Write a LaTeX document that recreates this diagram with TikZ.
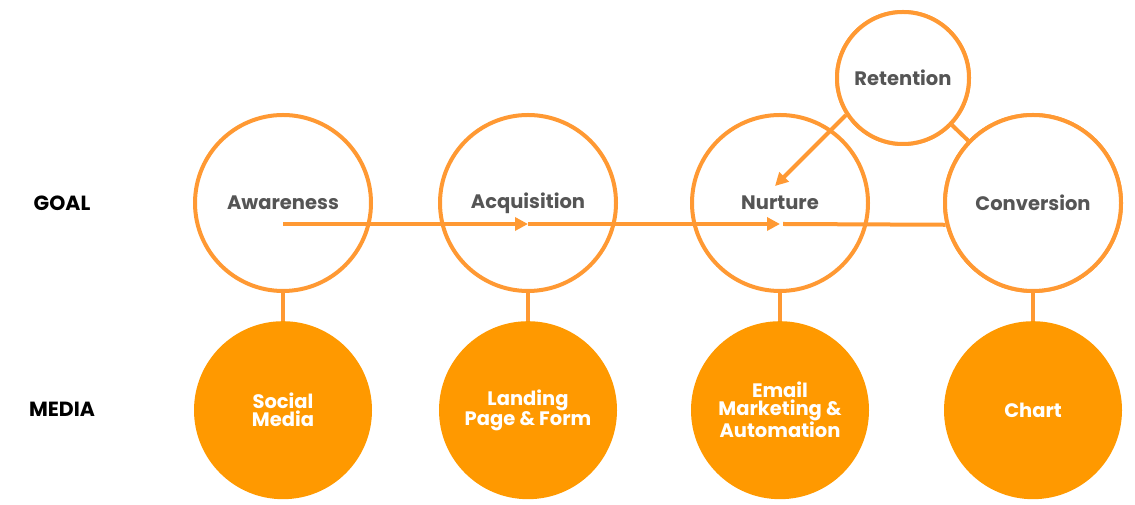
\documentclass[tikz,border=0pt]{standalone}
\usepackage{fontspec}
\setmainfont{Poppins}
\usepackage{xcolor}
\definecolor{LINECOLOR}{HTML}{FF9933}
\definecolor{MEDIACOLOR}{HTML}{FF9900}
\definecolor{TEXTCOLOR}{HTML}{555555}
\usepackage{tikz}
\usetikzlibrary{arrows.meta,positioning,calc}
\tikzset{
  goal-style/.style = {
    circle, draw=LINECOLOR, line width=4pt, fill=white,
    minimum size=176pt, inner sep=0pt,
    text=TEXTCOLOR, font=\bfseries\fontsize{19.5}{18}\selectfont
  },
  ret-style/.style = {
    goal-style, minimum size=132pt
  },
  media-style/.style = {
    circle, fill=MEDIACOLOR, minimum size=178pt, inner sep=0pt,
    text=white, align=center, font=\bfseries\fontsize{19.5}{18}\selectfont
  },
  row-style/.style = {
    font=\bfseries\fontsize{20.5}{18}\selectfont, text=black
  },
  link-style/.style = {
    draw=LINECOLOR, line width=4pt
  },
  flow-style/.style = {
    link-style, -{Triangle[length=13pt,width=13pt]}
  }
}

\begin{document}
\begin{tikzpicture}[x=1pt,y=1pt]
    \useasboundingbox (0,0) rectangle (1135,505);

    %%% row labels
    \node[row-style] (goalLbl) at (62,302) {GOAL};
    \node[row-style] (mediaLbl) at (62,96) {MEDIA};

    %%% links behind circles
    \node[ret-style] (ret) at (903,427) {};
    \node[goal-style] (conv) at (1033,302) {};
    \path[link-style] (ret) -- (conv);

    %%% goals
    \node[goal-style] (aware) at (283,302) {Awareness};
    \node[goal-style] (acq) at (528,302) {Acquisition};
    \node[goal-style] (nurt) at (780,302) {Nurture};
    \node[goal-style] (conv) at (1033,302) {Conversion};
    \node[ret-style] (ret) at (903,427) {Retention};

    %%% media
    \node[media-style,below=28pt of aware] (social) {Social\\Media};
    \node[media-style,below=28pt of acq] (landing) {Landing\\Page \& Form};
    \node[media-style,below=28pt of nurt] (email) {Email\\Marketing \&\\Automation};
    \node[media-style,below=28pt of conv] (chart) {Chart};

    %%% arrows
    \path[link-style] (aware) -- (social);
    \path[link-style] (acq) -- (landing);
    \path[link-style] (nurt) -- (email);
    \path[link-style] (conv) -- (chart);
    \path[flow-style] ([yshift=-21pt]aware.center) -- ([yshift=-21pt]acq.center);
    \path[flow-style] ([yshift=-21pt]acq.center) -- ([yshift=-21pt]nurt.center);
    \path[link-style] ([xshift=3pt,yshift=-21pt]nurt.center) -- (conv.194);
    \path[flow-style] (ret.213) -- ([xshift=-5pt,yshift=17pt]nurt.center);
\end{tikzpicture}
\end{document}
